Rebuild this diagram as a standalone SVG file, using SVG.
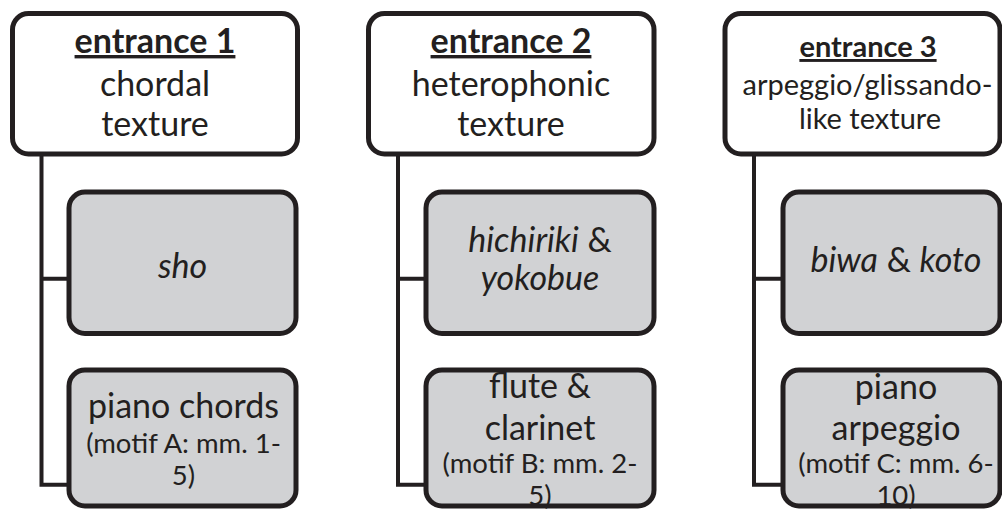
<svg xmlns="http://www.w3.org/2000/svg" width="1002" height="510" viewBox="0 0 1002 510">
<style>
.top{fill:#ffffff;stroke:#231f20;stroke-width:5}
.sub{fill:#d1d2d4;stroke:#231f20;stroke-width:5}
.conn{fill:none;stroke:#231f20;stroke-width:4;stroke-linejoin:miter;stroke-linecap:butt}
text{font-family:Lato,"Open Sans",sans-serif;fill:#231f20;text-anchor:middle}
.big{font-size:34px}
.mid{font-size:29px}
.small{font-size:27.5px}
.head{font-weight:bold;text-decoration:underline}
.it{font-style:italic}
</style>
<rect width="1002" height="510" fill="#ffffff"/>
<g id="connectors">
<path class="conn" d="M41.5 155 V484.7 H70 M41.5 278.7 H70"/>
<path class="conn" d="M398 155 V484.7 H427 M398 278.7 H427"/>
<path class="conn" d="M754 155 V484.7 H783 M754 278.7 H783"/>
</g>
<g id="entrance1">
<rect class="top" x="12.5" y="13.5" width="285" height="140.5" rx="16"/>
<text x="155" y="53" class="big head">entrance 1</text>
<text x="155" y="96" class="big">chordal</text>
<text x="155" y="136" class="big">texture</text>
</g>
<g id="sho">
<rect class="sub" x="69" y="192" width="227" height="141.5" rx="16"/>
<text x="182.5" y="278" class="big it">sho</text>
</g>
<g id="piano-chords">
<rect class="sub" x="69" y="370" width="227" height="136" rx="16"/>
<text x="183.5" y="418" class="big">piano chords</text>
<text x="183.5" y="453" class="small">(motif A: mm. 1-</text>
<text x="183.5" y="485" class="small">5)</text>
</g>
<g id="entrance2">
<rect class="top" x="368.5" y="13.5" width="285.5" height="140.5" rx="16"/>
<text x="511" y="53" class="big head">entrance 2</text>
<text x="511" y="96" class="big">heterophonic</text>
<text x="511" y="136" class="big">texture</text>
</g>
<g id="hichiriki">
<rect class="sub" x="426" y="192" width="228" height="141.5" rx="16"/>
<text x="540" y="252" class="big"><tspan class="it">hichiriki</tspan> &amp;</text>
<text x="540" y="290" class="big it">yokobue</text>
</g>
<g id="flute-clarinet">
<rect class="sub" x="426" y="370" width="228" height="136" rx="16"/>
<text x="540" y="398" class="big">flute &amp;</text>
<text x="540" y="440" class="big">clarinet</text>
<text x="540" y="473" class="small">(motif B: mm. 2-</text>
<text x="540" y="505" class="small">5)</text>
</g>
<g id="entrance3">
<rect class="top" x="725" y="13.5" width="275" height="140.5" rx="16"/>
<text x="868" y="57" class="mid head">entrance 3</text>
<text x="867.5" y="95" class="mid">arpeggio/glissando-</text>
<text x="870" y="129" class="mid">like texture</text>
</g>
<g id="biwa-koto">
<rect class="sub" x="783" y="192" width="217" height="141.5" rx="16"/>
<text x="896" y="272" class="big"><tspan class="it">biwa</tspan> &amp; <tspan class="it">koto</tspan></text>
</g>
<g id="piano-arpeggio">
<rect class="sub" x="783" y="370" width="217" height="136" rx="16"/>
<text x="896" y="399" class="big">piano</text>
<text x="896" y="440" class="big">arpeggio</text>
<text x="896" y="473" class="small">(motif C: mm. 6-</text>
<text x="896" y="505" class="small">10)</text>
</g>
</svg>
